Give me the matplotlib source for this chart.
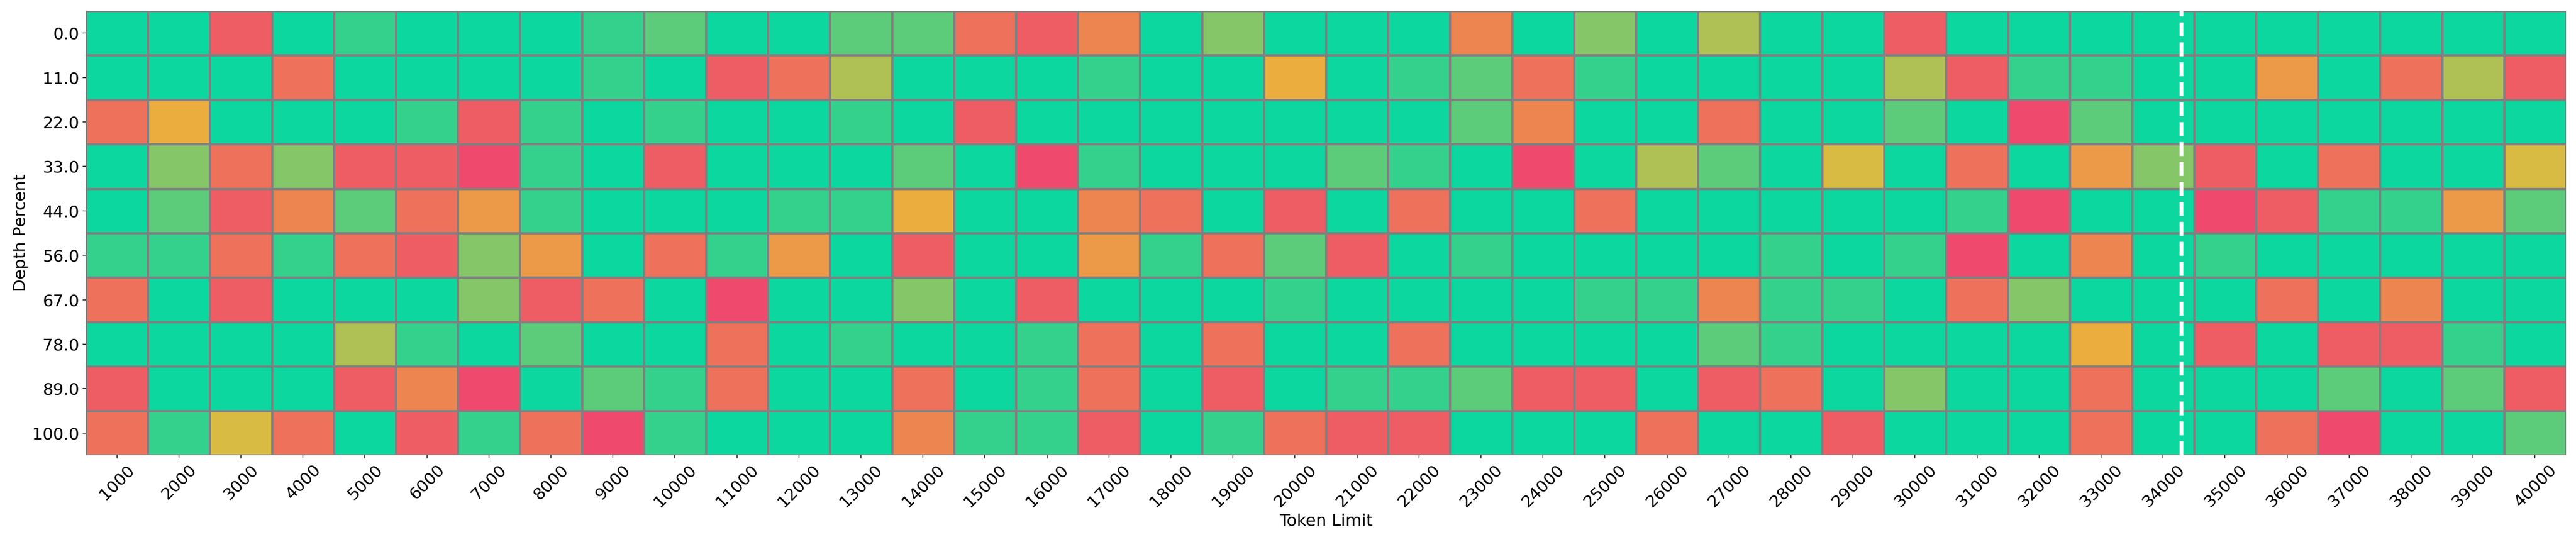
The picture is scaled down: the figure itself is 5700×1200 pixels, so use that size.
import numpy as np
import matplotlib
matplotlib.use("Agg")
import matplotlib.pyplot as plt
from matplotlib.colors import LinearSegmentedColormap

token_limits = [1000, 2000, 3000, 4000, 5000, 6000, 7000, 8000, 9000, 10000,
                11000, 12000, 13000, 14000, 15000, 16000, 17000, 18000, 19000, 20000,
                21000, 22000, 23000, 24000, 25000, 26000, 27000, 28000, 29000, 30000,
                31000, 32000, 33000, 34000, 35000, 36000, 37000, 38000, 39000, 40000]
depth_percents = [0.0, 11.0, 22.0, 33.0, 44.0, 56.0, 67.0, 78.0, 89.0, 100.0]

score_d00 = [11, 11, 1, 11, 10, 11, 11, 11, 10, 9, 11, 11, 9, 9, 2, 1, 3, 11, 8, 11,
             11, 11, 3, 11, 8, 11, 7, 11, 11, 1, 11, 11, 11, 11, 11, 11, 11, 11, 11, 11]
score_d11 = [11, 11, 11, 2, 11, 11, 11, 11, 10, 11, 1, 2, 7, 11, 11, 11, 10, 11, 11, 5,
             11, 10, 9, 2, 10, 11, 11, 11, 11, 7, 1, 10, 10, 11, 11, 4, 11, 2, 7, 1]
score_d22 = [2, 5, 11, 11, 11, 10, 1, 10, 11, 10, 11, 11, 10, 11, 1, 11, 11, 11, 11, 11,
             11, 11, 9, 3, 11, 11, 2, 11, 11, 9, 11, 0, 9, 11, 11, 11, 11, 11, 11, 11]
score_d33 = [11, 8, 2, 8, 1, 1, 0, 10, 11, 1, 11, 11, 11, 9, 11, 0, 10, 11, 11, 11,
             9, 10, 11, 0, 11, 7, 9, 11, 6, 11, 2, 11, 4, 8, 1, 11, 2, 11, 11, 6]
score_d44 = [11, 9, 1, 3, 9, 2, 4, 10, 11, 11, 11, 10, 10, 5, 11, 11, 3, 2, 11, 1,
             11, 2, 11, 11, 2, 11, 11, 11, 11, 11, 10, 0, 11, 11, 0, 1, 10, 10, 4, 9]
score_d56 = [10, 10, 2, 10, 2, 1, 8, 4, 11, 2, 10, 4, 11, 1, 11, 11, 4, 10, 2, 9,
             1, 11, 10, 11, 11, 11, 11, 10, 11, 10, 0, 11, 3, 11, 10, 11, 11, 11, 11, 11]
score_d67 = [2, 11, 1, 11, 11, 11, 8, 1, 2, 11, 0, 11, 11, 8, 11, 1, 11, 11, 11, 10,
             11, 11, 11, 11, 10, 10, 3, 10, 10, 11, 2, 8, 11, 11, 11, 2, 11, 3, 11, 11]
score_d78 = [11, 11, 11, 11, 7, 10, 11, 9, 11, 11, 2, 11, 10, 11, 11, 10, 2, 11, 2, 11,
             11, 2, 11, 11, 11, 11, 9, 10, 11, 11, 11, 11, 5, 11, 1, 11, 1, 1, 10, 11]
score_d89 = [1, 11, 11, 11, 1, 3, 0, 11, 9, 10, 2, 11, 11, 2, 11, 10, 2, 11, 1, 11,
             10, 10, 9, 1, 1, 11, 1, 2, 11, 8, 11, 11, 2, 11, 11, 11, 9, 11, 9, 1]
score_d100 = [2, 10, 6, 2, 11, 1, 10, 2, 0, 10, 11, 11, 11, 3, 10, 10, 1, 11, 10, 2,
              1, 1, 11, 11, 11, 2, 11, 11, 1, 11, 11, 11, 2, 11, 11, 2, 0, 11, 11, 9]

score_min, score_max = 0, 11
marker_position = 33.8

scores = np.array([score_d00, score_d11, score_d22, score_d33, score_d44,
                   score_d56, score_d67, score_d78, score_d89, score_d100])

cmap = LinearSegmentedColormap.from_list("custom_cmap", ["#F0496E", "#EBB839", "#0CD79F"])

fig = plt.figure(figsize=(38, 8), dpi=150)
ax = fig.add_axes([190 / 5700, 0.16, (5678 - 190) / 5700, 0.82])

ax.pcolormesh(np.arange(len(token_limits) + 1), np.arange(len(depth_percents) + 1), scores,
              cmap=cmap, vmin=score_min, vmax=score_max, edgecolors="grey", linewidth=1.5)
ax.set_xlim(0, len(token_limits))
ax.set_ylim(len(depth_percents), 0)

ax.set_xticks(np.arange(len(token_limits)) + 0.5)
ax.set_xticklabels([str(t) for t in token_limits], rotation=45, fontsize=17.5)
ax.set_yticks(np.arange(len(depth_percents)) + 0.5)
ax.set_yticklabels([f"{d:.1f}" for d in depth_percents], rotation=0, fontsize=17.5)
ax.set_xlabel("Token Limit", fontsize=17.5)
ax.set_ylabel("Depth Percent", fontsize=17.5)
for s in ax.spines.values():
    s.set_visible(False)

ax.axvline(marker_position, color="white", linestyle="--", linewidth=4)

fig.savefig("out.png", dpi=150)
